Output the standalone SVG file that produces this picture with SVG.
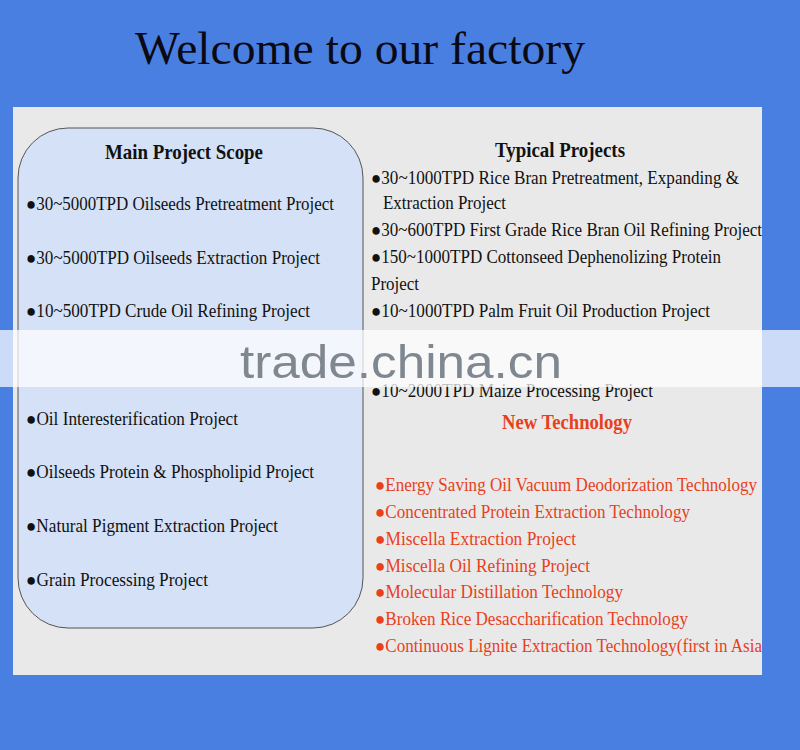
<svg xmlns="http://www.w3.org/2000/svg" width="800" height="750" viewBox="0 0 800 750">
<style>
.t{font-family:"Liberation Serif",serif;font-size:18px;fill:#111}
.h{font-family:"Liberation Serif",serif;font-size:21px;font-weight:bold;fill:#111}
.r{font-family:"Liberation Serif",serif;font-size:18px;fill:#e8401c}
.b{font-size:22px}
</style>
<rect width="800" height="750" fill="#4a7fe2"/>
<text x="135" y="64" font-family="Liberation Serif,serif" font-size="46" fill="#0a0a14" textLength="450" lengthAdjust="spacingAndGlyphs">Welcome to our factory</text>
<rect x="13" y="107" width="749" height="568" fill="#e9e9e9"/>
<rect x="18" y="128" width="345" height="500" rx="50" fill="#d4e1f6" stroke="#555" stroke-width="1"/>
<g id="left">
<text class="h" x="184" y="159" text-anchor="middle" textLength="158" lengthAdjust="spacingAndGlyphs">Main Project Scope</text>
<text class="t" x="26" y="210" textLength="308" lengthAdjust="spacingAndGlyphs">●30~5000TPD Oilseeds Pretreatment Project</text>
<text class="t" x="26" y="264" textLength="294" lengthAdjust="spacingAndGlyphs">●30~5000TPD Oilseeds Extraction Project</text>
<text class="t" x="26" y="317" textLength="284" lengthAdjust="spacingAndGlyphs">●10~500TPD Crude Oil Refining Project</text>
<text class="t" x="26" y="425" textLength="212" lengthAdjust="spacingAndGlyphs">●Oil Interesterification Project</text>
<text class="t" x="26" y="478" textLength="288" lengthAdjust="spacingAndGlyphs">●Oilseeds Protein &amp; Phospholipid Project</text>
<text class="t" x="26" y="532" textLength="252" lengthAdjust="spacingAndGlyphs">●Natural Pigment Extraction Project</text>
<text class="t" x="26" y="586" textLength="182" lengthAdjust="spacingAndGlyphs">●Grain Processing Project</text>
</g>
<g id="right">
<text class="h" x="560" y="157" text-anchor="middle" textLength="130" lengthAdjust="spacingAndGlyphs">Typical Projects</text>
<text class="t" x="371" y="184" textLength="368" lengthAdjust="spacingAndGlyphs">●30~1000TPD Rice Bran Pretreatment, Expanding &amp;</text>
<text class="t" x="383" y="209" textLength="123" lengthAdjust="spacingAndGlyphs">Extraction Project</text>
<text class="t" x="371" y="236" textLength="391" lengthAdjust="spacingAndGlyphs">●30~600TPD First Grade Rice Bran Oil Refining Project</text>
<text class="t" x="371" y="263" textLength="350" lengthAdjust="spacingAndGlyphs">●150~1000TPD Cottonseed Dephenolizing Protein</text>
<text class="t" x="371" y="290" textLength="48" lengthAdjust="spacingAndGlyphs">Project</text>
<text class="t" x="371" y="317" textLength="339" lengthAdjust="spacingAndGlyphs">●10~1000TPD Palm Fruit Oil Production Project</text>
<text class="t" x="371" y="397" textLength="282" lengthAdjust="spacingAndGlyphs">●10~2000TPD Maize Processing Project</text>
<text class="h" x="567" y="429" text-anchor="middle" style="fill:#e8401c" textLength="130" lengthAdjust="spacingAndGlyphs">New Technology</text>
<text class="r" x="375" y="491" textLength="382" lengthAdjust="spacingAndGlyphs">●Energy Saving Oil Vacuum Deodorization Technology</text>
<text class="r" x="375" y="518" textLength="315" lengthAdjust="spacingAndGlyphs">●Concentrated Protein Extraction Technology</text>
<text class="r" x="375" y="545" textLength="201" lengthAdjust="spacingAndGlyphs">●Miscella Extraction Project</text>
<text class="r" x="375" y="572" textLength="215" lengthAdjust="spacingAndGlyphs">●Miscella Oil Refining Project</text>
<text class="r" x="375" y="598" textLength="248" lengthAdjust="spacingAndGlyphs">●Molecular Distillation Technology</text>
<text class="r" x="375" y="625" textLength="313" lengthAdjust="spacingAndGlyphs">●Broken Rice Desaccharification Technology</text>
<text class="r" x="375" y="652" textLength="387" lengthAdjust="spacingAndGlyphs">●Continuous Lignite Extraction Technology(first in Asia</text>
</g>
<rect x="0" y="330" width="800" height="57" fill="#ffffff" opacity="0.72"/>
<text x="240" y="378" font-family="Liberation Sans,sans-serif" font-size="46" fill="#7f8791" textLength="322" lengthAdjust="spacingAndGlyphs">trade.china.cn</text>
</svg>
